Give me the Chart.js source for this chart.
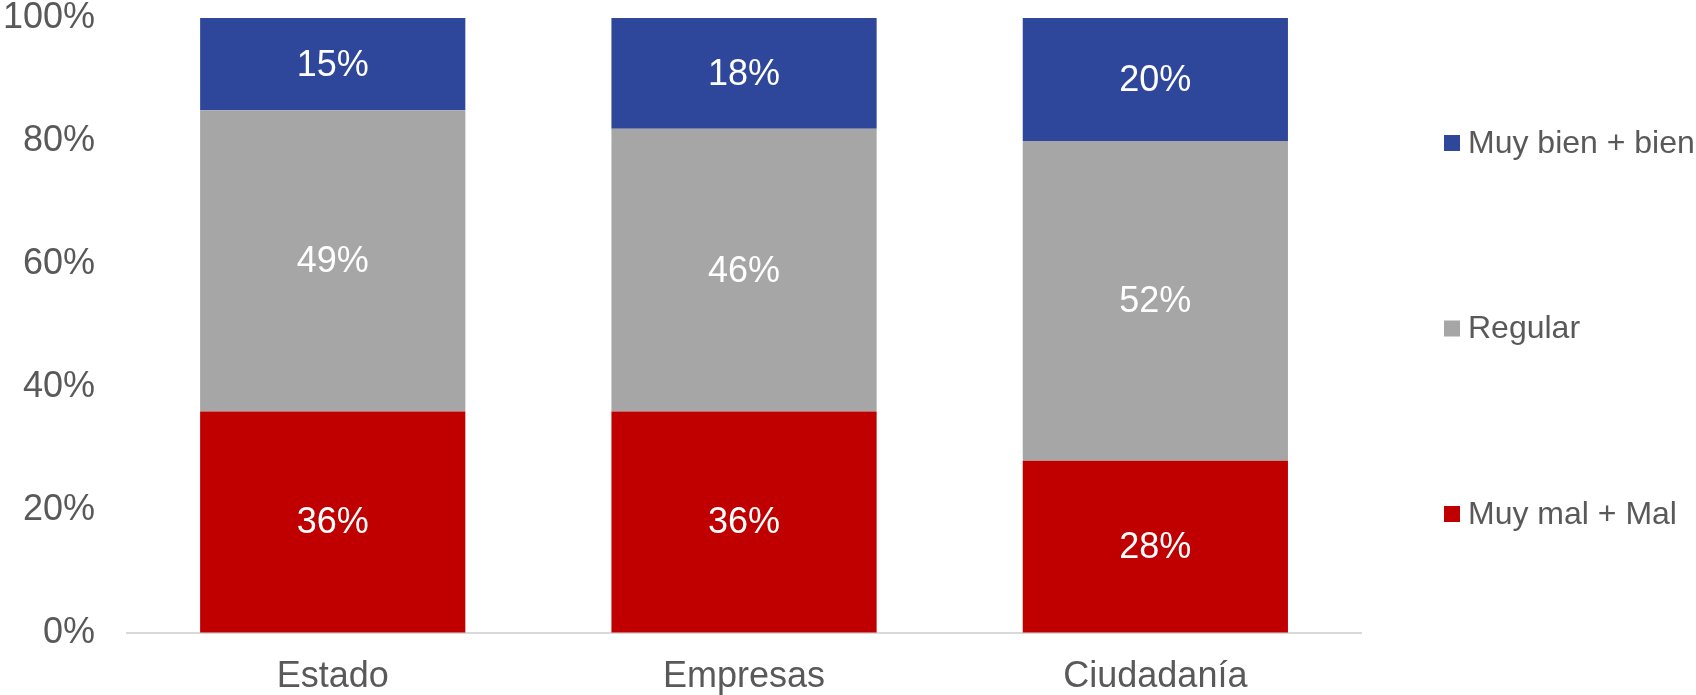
<!DOCTYPE html>
<html>
<head>
<meta charset="utf-8">
<script src="https://cdn.jsdelivr.net/npm/chart.js@4/dist/chart.umd.min.js"></script>
<style>
  html, body { margin: 0; padding: 0; background: #fff; }
  #wrap { width: 1696px; height: 695px; position: relative; }
</style>
</head>
<body>
<div id="wrap"><canvas id="c" width="1696" height="695"></canvas></div>
<script>
const categories = ['Estado', 'Empresas', 'Ciudadanía'];
const seriesNames = ['Muy mal + Mal', 'Regular', 'Muy bien + bien'];
const muyMal = [36, 36, 28];
const regular = [49, 46, 52];
const muyBien = [15, 18, 20];
const seriesColors = ['#C00000', '#A6A6A6', '#2E479B'];
const yTicks = [0, 20, 40, 60, 80, 100];

const FONT = "'Liberation Sans', Arial, sans-serif";
const TEXT = '#595959';

const labelPlugin = {
  id: 'segLabels',
  afterDatasetsDraw(chart) {
    const ctx = chart.ctx;
    ctx.save();
    ctx.font = '36px ' + FONT;
    ctx.fillStyle = '#FFFFFF';
    ctx.textAlign = 'center';
    ctx.textBaseline = 'middle';
    chart.data.datasets.forEach((ds, di) => {
      const meta = chart.getDatasetMeta(di);
      meta.data.forEach((bar, i) => {
        const p = bar.getProps(['x', 'y', 'base'], true);
        ctx.fillText(ds.data[i] + '%', p.x, (p.y + p.base) / 2 + 1.5);
      });
    });
    ctx.restore();
  }
};

const legendPlugin = {
  id: 'sideLegend',
  afterDraw(chart) {
    const ctx = chart.ctx;
    const area = chart.chartArea;
    const mid = (area.top + area.bottom) / 2 + 3;
    const step = 185.5;
    const x = 1444;
    ctx.save();
    ctx.font = '32px ' + FONT;
    ctx.textBaseline = 'middle';
    ctx.textAlign = 'left';
    const ds = chart.data.datasets;
    for (let k = 0; k < ds.length; k++) {
      const d = ds[ds.length - 1 - k];
      const cy = mid + (k - 1) * step;
      ctx.fillStyle = d.backgroundColor;
      ctx.fillRect(x, cy - 8, 16, 16);
      ctx.fillStyle = TEXT;
      ctx.fillText(d.label, x + 24, cy + 1);
    }
    ctx.restore();
  }
};

new Chart(document.getElementById('c'), {
  type: 'bar',
  data: {
    labels: categories,
    datasets: [
      { label: seriesNames[0], data: muyMal, backgroundColor: seriesColors[0] },
      { label: seriesNames[1], data: regular, backgroundColor: seriesColors[1] },
      { label: seriesNames[2], data: muyBien, backgroundColor: seriesColors[2] }
    ]
  },
  options: {
    responsive: false,
    animation: false,
    devicePixelRatio: 1,
    layout: { padding: { left: 3, right: 335, top: 0, bottom: 0 } },
    datasets: { bar: { categoryPercentage: 0.8, barPercentage: 0.806 } },
    plugins: {
      legend: { display: false },
      tooltip: { enabled: false }
    },
    scales: {
      x: {
        stacked: true,
        grid: { display: true, drawOnChartArea: false, drawTicks: true, tickLength: 26, tickColor: 'rgba(0,0,0,0)' },
        border: { display: true, color: '#D9D9D9', width: 2 },
        ticks: { color: TEXT, font: { family: FONT, size: 36, lineHeight: 1 }, padding: 0 }
      },
      y: {
        stacked: true,
        min: 0,
        max: 100,
        afterBuildTicks(axis) { axis.ticks = yTicks.map(v => ({ value: v })); },
        grid: { display: true, drawOnChartArea: false, drawTicks: true, tickLength: 32, tickColor: 'rgba(0,0,0,0)' },
        border: { display: false },
        ticks: {
          color: TEXT,
          font: { family: FONT, size: 36, lineHeight: 1 },
          padding: 0,
          callback: v => v + '%'
        }
      }
    }
  },
  plugins: [labelPlugin, legendPlugin]
});
</script>
</body>
</html>
